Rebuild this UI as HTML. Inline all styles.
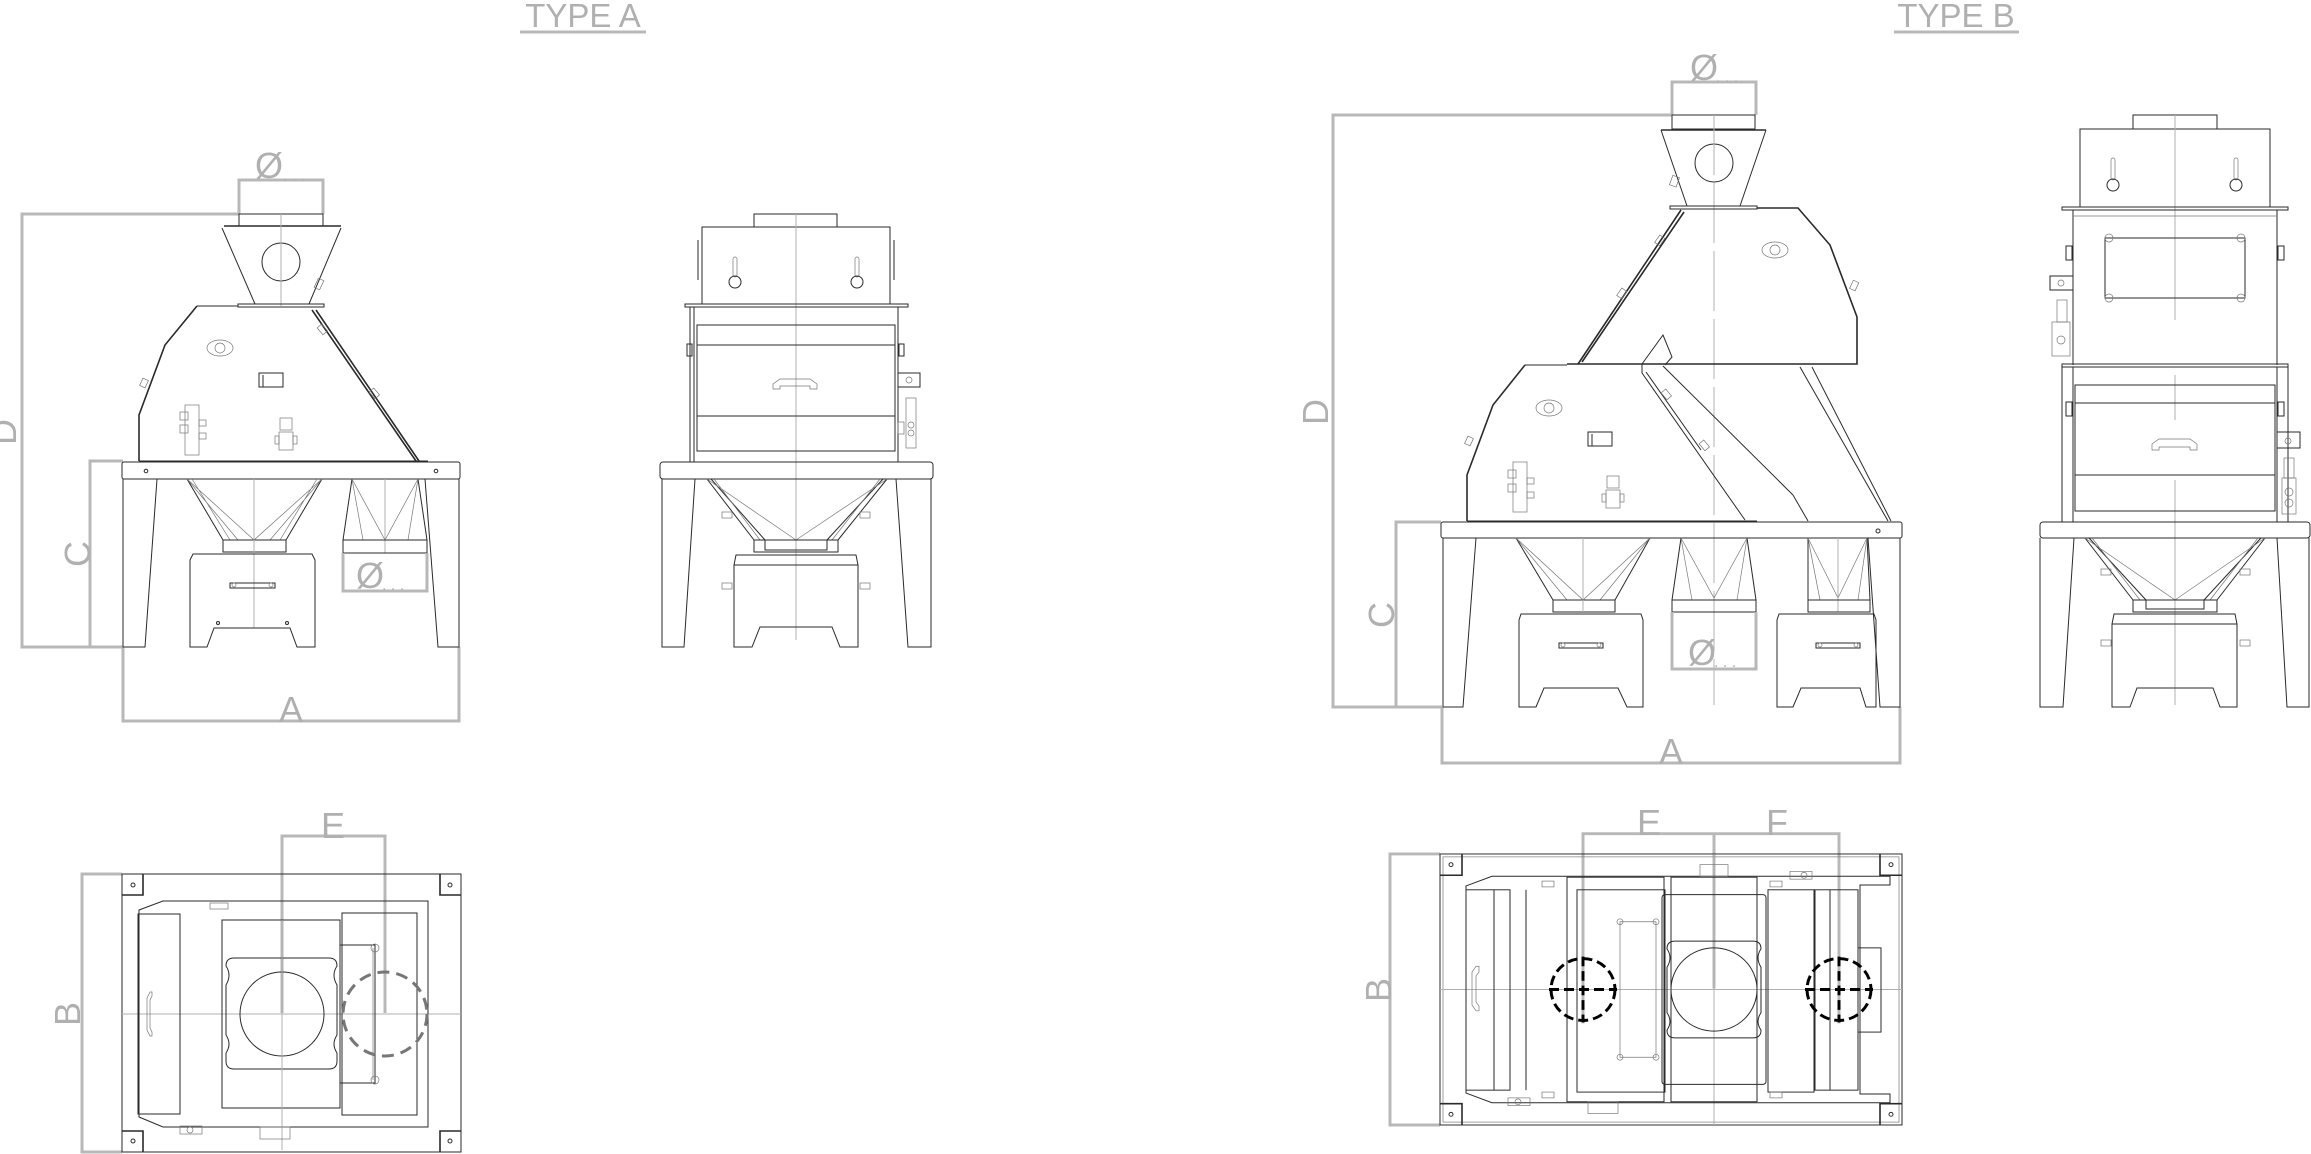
<!DOCTYPE html>
<html><head><meta charset="utf-8"><style>
html,body{margin:0;padding:0;background:#fff;}
svg{display:block;}
.g{stroke:#b8b8b8;stroke-width:3;fill:none;}
.m{stroke:#2a2a2a;stroke-width:1;fill:none;}
.mb{stroke:#2a2a2a;stroke-width:1.6;fill:none;}
.t{stroke:#777;stroke-width:0.7;fill:none;}
.c{stroke:#b0b0b0;stroke-width:1;fill:none;}
.dg{stroke:#777;stroke-width:3;fill:none;stroke-dasharray:12 7;}
.dk{stroke:#000;stroke-width:3;fill:none;stroke-dasharray:10 5;}
.lbl{font-family:"Liberation Sans",sans-serif;fill:#b0b0b0;font-size:36px;}
.ttl{font-family:"Liberation Sans",sans-serif;fill:#b0b0b0;font-size:33px;}
</style></head><body>
<svg width="2311" height="1154" viewBox="0 0 2311 1154" xmlns="http://www.w3.org/2000/svg">
<!-- Titles -->
<text class="ttl" x="583" y="27" text-anchor="middle">TYPE A</text>
<line class="g" x1="520" y1="32" x2="646" y2="32"/>
<text class="ttl" x="1956" y="27" text-anchor="middle">TYPE B</text>
<line class="g" x1="1894" y1="32" x2="2019" y2="32"/>

<!-- ================= TYPE A FRONT ================= -->
<path class="g" d="M239,214 V180 H323 V214"/>
<text class="lbl" x="255" y="178">Ø</text>
<text class="lbl" x="283" y="181" style="font-size:16px">. . .</text>
<path class="g" d="M239,214 H22 V647 H123"/>
<text class="lbl" transform="translate(16,432) rotate(-90)" text-anchor="middle">D</text>
<path class="g" d="M123,461 H90 V647"/>
<text class="lbl" transform="translate(90,554) rotate(-90)" text-anchor="middle">C</text>
<path class="g" d="M123,647 V721 H459 V647"/>
<text class="lbl" x="291" y="722" text-anchor="middle">A</text>
<rect class="m" x="239" y="214" width="84" height="12"/>
<line class="mb" x1="224" y1="226" x2="341" y2="226"/>
<path class="m" d="M222,228 L255,304 M341,228 L309,304"/>
<circle class="m" cx="281" cy="262" r="19"/>
<line class="c" x1="281" y1="214" x2="281" y2="306"/>
<rect class="m" x="238" y="304" width="86" height="3"/>
<path class="mb" d="M197,306 L165,345 L139,415 L139,461"/>
<path class="m" d="M197,306 H238"/>
<path class="mb" d="M312,310 L416,461 M316,310 L419,461"/>
<ellipse class="t" cx="220" cy="348" rx="13" ry="8"/><circle class="t" cx="220" cy="348" r="5"/>
<rect class="m" x="259" y="373" width="24" height="14"/><line class="m" x1="263" y1="375" x2="263" y2="387"/>
<rect class="t" x="185" y="405" width="14" height="50"/><rect class="t" x="180" y="412" width="8" height="8"/><rect class="t" x="180" y="425" width="8" height="8"/><rect class="t" x="199" y="420" width="7" height="6"/><rect class="t" x="199" y="433" width="7" height="6"/>
<rect class="t" x="280" y="418" width="12" height="12"/><rect class="t" x="279" y="432" width="14" height="18"/><rect class="t" x="275" y="436" width="4" height="8"/><rect class="t" x="293" y="436" width="4" height="8"/>
<rect class="t" x="140" y="380" width="8" height="6" transform="rotate(-65 144 383)"/>
<rect class="t" x="318" y="326" width="9" height="6" transform="rotate(50 322 329)"/>
<rect class="t" x="370" y="390" width="9" height="6" transform="rotate(50 374 393)"/>
<rect class="t" x="314" y="281" width="10" height="6" transform="rotate(-65 319 284)"/>
<line class="m" x1="139" y1="461" x2="428" y2="461"/>
<rect class="m" x="122" y="462" width="338" height="17" rx="2"/>
<circle class="m" cx="146" cy="471" r="1.8"/><circle class="m" cx="436" cy="471" r="1.8"/>
<path class="m" d="M123,479 V647 H145 L157,479"/>
<path class="m" d="M459,479 V647 H438 L425,479"/>
<path class="m" d="M187,479 L223,540 M322,479 L286,540"/>
<path class="t" d="M187,479 L254,540 L322,479 M187,479 L238,540 M322,479 L270,540 M192,479 L230,540 M317,479 L280,540"/>
<rect class="m" x="223" y="540" width="63" height="12"/>
<line class="c" x1="254" y1="479" x2="254" y2="628"/>
<path class="m" d="M193,554 H312 L315,560 V647 H297 L290,628 H214 L207,647 H190 V560 Z"/>
<rect class="m" x="230" y="583" width="45" height="5"/><circle class="t" cx="234" cy="585" r="2"/><circle class="t" cx="271" cy="585" r="2"/>
<circle class="m" cx="218" cy="623" r="1.5"/><circle class="m" cx="287" cy="623" r="1.5"/>
<path class="m" d="M352,479 L343,540 M418,479 L427,540"/>
<path class="t" d="M352,479 L385,540 L418,479 M352,479 L363,540 M418,479 L408,540"/>
<line class="c" x1="385" y1="479" x2="385" y2="553"/>
<rect class="m" x="343" y="540" width="84" height="13"/>
<path class="g" d="M343,553 V591 H427 V553"/>
<text class="lbl" x="356" y="588">Ø</text>
<text class="lbl" x="382" y="590" style="font-size:16px">. . .</text>

<!-- ================= TYPE A SIDE ================= -->
<rect class="m" x="754" y="214" width="83" height="13"/>
<rect class="m" x="702" y="227" width="188" height="77"/>
<line class="m" x1="698" y1="240" x2="698" y2="280"/><line class="m" x1="894" y1="240" x2="894" y2="280"/>
<line class="c" x1="796" y1="214" x2="796" y2="640"/>
<rect class="t" x="733" y="257" width="4" height="20" rx="2"/><circle class="m" cx="735" cy="282" r="6"/>
<rect class="t" x="855" y="257" width="4" height="20" rx="2"/><circle class="m" cx="857" cy="282" r="6"/>
<rect class="m" x="685" y="304" width="223" height="3"/>
<path class="m" d="M690,307 V462 M694,307 V462 M898,307 V462"/>
<rect class="m" x="697" y="325" width="198" height="126"/>
<line class="m" x1="697" y1="345" x2="895" y2="345"/><line class="m" x1="697" y1="416" x2="895" y2="416"/>
<path class="t" d="M773,384 L780,379 H810 L817,384 V389 H810 V386 H780 V389 H773 Z"/>
<rect class="m" x="687" y="344" width="5" height="12"/><rect class="m" x="899" y="344" width="5" height="12"/>
<rect class="m" x="898" y="373" width="22" height="14"/><circle class="t" cx="909" cy="380" r="3"/>
<rect class="t" x="906" y="398" width="10" height="50"/><circle class="t" cx="911" cy="425" r="3"/><circle class="t" cx="911" cy="433" r="3"/><rect class="t" x="898" y="422" width="6" height="12"/>
<rect class="m" x="660" y="462" width="273" height="17" rx="3"/>
<path class="m" d="M662,479 V647 H684 L695,479"/>
<path class="m" d="M931,479 V647 H908 L896,479"/>
<path class="m" d="M707,479 L754,540 M887,479 L838,540 M711,479 L765,540 M883,479 L827,540"/>
<path class="t" d="M707,479 L796,540 L887,479 M714,479 L760,540 M880,479 L832,540"/>
<rect class="m" x="754" y="540" width="84" height="12"/><rect class="m" x="765" y="540" width="62" height="10"/>
<path class="m" d="M736,555 H856 L858,565 V647 H840 L832,627 H760 L752,647 H734 V565 Z"/>
<line class="m" x1="734" y1="565" x2="858" y2="565"/>
<rect class="t" x="722" y="512" width="10" height="6"/><rect class="t" x="860" y="512" width="10" height="6"/>
<rect class="t" x="722" y="583" width="10" height="6"/><rect class="t" x="860" y="583" width="10" height="6"/>

<!-- ================= TYPE A BOTTOM ================= -->
<path class="g" d="M282,1013 V836 H385 V1013"/>
<text class="lbl" x="333" y="838" text-anchor="middle">E</text>
<path class="g" d="M122,874 H82 V1152 H122"/>
<text class="lbl" transform="translate(80,1014) rotate(-90)" text-anchor="middle">B</text>
<rect class="m" x="122" y="874" width="339" height="278"/>
<path class="mb" d="M122,895 H143 V874 M461,895 H440 V874 M122,1131 H143 V1152 M461,1131 H440 V1152"/>
<circle class="m" cx="133" cy="885" r="2"/><circle class="m" cx="450" cy="885" r="2"/><circle class="m" cx="133" cy="1141" r="2"/><circle class="m" cx="450" cy="1141" r="2"/>
<line class="c" x1="122" y1="1014" x2="461" y2="1014"/>
<path class="m" d="M139,910 L163,901 H428 V1127 H163 L139,1117 Z"/>
<rect class="m" x="138" y="914" width="42" height="200"/>
<path class="t" d="M150,992 L147,998 V1030 L150,1036 H152 V1032 L150,1028 V1000 L152,996 V992 Z"/>
<rect class="m" x="222" y="920" width="118" height="188"/>
<path class="m" d="M234,958 H329 Q337,958 337,966 Q331,975 337,985 V1035 Q331,1044 337,1053 V1061 Q337,1069 329,1069 H234 Q226,1069 226,1061 V1053 Q232,1044 226,1035 V985 Q232,975 226,966 Q226,958 234,958 Z"/>
<circle class="m" cx="282" cy="1014" r="42"/>
<line class="c" x1="282" y1="920" x2="282" y2="1150"/>
<rect class="m" x="342" y="913" width="75" height="202"/>
<rect class="m" x="340" y="945" width="35" height="138"/>
<line class="t" x1="373" y1="948" x2="373" y2="1080"/><circle class="t" cx="375" cy="948" r="4"/><circle class="t" cx="375" cy="1080" r="4"/>
<circle class="dg" cx="385" cy="1014" r="42"/>
<rect class="t" x="180" y="1126" width="22" height="8"/><circle class="t" cx="190" cy="1130" r="3"/>
<rect class="t" x="260" y="1127" width="30" height="12"/>
<rect class="t" x="210" y="903" width="18" height="6"/>

<!-- ================= TYPE B FRONT ================= -->
<path class="g" d="M1672,115 V82 H1756 V115"/>
<text class="lbl" x="1690" y="80">Ø</text>
<text class="lbl" x="1716" y="82" style="font-size:16px">. . .</text>
<path class="g" d="M1672,115 H1333 V707 H1442"/>
<text class="lbl" transform="translate(1328,412) rotate(-90)" text-anchor="middle">D</text>
<path class="g" d="M1441,522 H1396 V707"/>
<text class="lbl" transform="translate(1394,615) rotate(-90)" text-anchor="middle">C</text>
<path class="g" d="M1442,707 V763 H1900 V707"/>
<text class="lbl" x="1671" y="764" text-anchor="middle">A</text>
<rect class="m" x="1672" y="115" width="83" height="14"/>
<line class="mb" x1="1661" y1="130" x2="1766" y2="130"/>
<path class="m" d="M1661,130 L1687,206 M1766,130 L1740,206"/>
<circle class="m" cx="1714" cy="163" r="19"/>
<line class="c" x1="1714" y1="115" x2="1714" y2="705" stroke-dasharray="60 8"/>
<rect class="m" x="1670" y="206" width="87" height="3"/>
<rect class="t" x="1669" y="178" width="10" height="7" transform="rotate(-70 1674 181)"/>
<path class="mb" d="M1757,208 H1798 L1830,245 L1857,317 V364 H1567"/>
<path class="mb" d="M1681,210 L1578,364 M1684,212 L1582,362"/>
<ellipse class="t" cx="1775" cy="250" rx="13" ry="8"/><circle class="t" cx="1775" cy="250" r="5"/>
<rect class="t" x="1655" y="237" width="9" height="6" transform="rotate(-55 1660 240)"/>
<rect class="t" x="1617" y="290" width="9" height="6" transform="rotate(-55 1622 293)"/>
<rect class="t" x="1850" y="283" width="9" height="6" transform="rotate(-65 1854 286)"/>
<path class="mb" d="M1525,365 L1509,385 L1493,405 L1467,475 V521"/>
<line class="m" x1="1525" y1="365" x2="1567" y2="365"/>
<path class="m" d="M1642,364 L1663,335 L1672,357 L1665,365"/>
<path class="m" d="M1642,364 V373 L1745,520 M1646,372 L1701,450"/>
<path class="m" d="M1663,366 L1793,495 L1808,521"/>
<path class="m" d="M1800,367 L1888,521 M1812,367 L1891,521"/>
<ellipse class="t" cx="1549" cy="408" rx="13" ry="8"/><circle class="t" cx="1549" cy="408" r="5"/>
<rect class="m" x="1588" y="432" width="24" height="14"/><line class="m" x1="1592" y1="434" x2="1592" y2="446"/>
<rect class="t" x="1513" y="462" width="14" height="50"/><rect class="t" x="1508" y="470" width="8" height="8"/><rect class="t" x="1508" y="484" width="8" height="8"/><rect class="t" x="1527" y="478" width="7" height="6"/><rect class="t" x="1527" y="492" width="7" height="6"/>
<rect class="t" x="1607" y="476" width="12" height="12"/><rect class="t" x="1606" y="490" width="14" height="18"/><rect class="t" x="1602" y="494" width="4" height="8"/><rect class="t" x="1620" y="494" width="4" height="8"/>
<rect class="t" x="1465" y="438" width="8" height="6" transform="rotate(-65 1469 441)"/>
<rect class="t" x="1662" y="391" width="9" height="6" transform="rotate(50 1666 394)"/>
<rect class="t" x="1700" y="442" width="9" height="6" transform="rotate(50 1704 445)"/>
<line class="m" x1="1467" y1="521" x2="1757" y2="521"/>
<rect class="m" x="1441" y="522" width="461" height="16" rx="2"/>
<circle class="m" cx="1878" cy="531" r="2"/>
<path class="m" d="M1443,538 V707 H1463 L1476,538"/>
<path class="m" d="M1900,538 V707 H1880 L1868,538"/>
<path class="m" d="M1516,538 L1553,600 M1650,538 L1615,600"/>
<path class="t" d="M1516,538 L1583,600 L1650,538 M1516,538 L1567,600 M1650,538 L1600,600"/>
<rect class="m" x="1553" y="600" width="62" height="12"/>
<line class="c" x1="1583" y1="538" x2="1583" y2="612"/>
<path class="m" d="M1521,614 H1641 L1643,620 V707 H1627 L1618,688 H1544 L1536,707 H1519 V620 Z"/>
<rect class="m" x="1559" y="643" width="44" height="5"/><circle class="t" cx="1563" cy="645" r="2"/><circle class="t" cx="1599" cy="645" r="2"/>
<path class="m" d="M1681,538 L1672,600 M1747,538 L1756,600"/>
<path class="t" d="M1681,538 L1714,598 L1747,538 M1681,538 L1692,600 M1747,538 L1737,600"/>
<rect class="m" x="1672" y="600" width="84" height="12"/>
<path class="g" d="M1672,612 V669 H1756 V612"/>
<text class="lbl" x="1688" y="665">Ø</text>
<text class="lbl" x="1714" y="667" style="font-size:16px">. . .</text>
<path class="m" d="M1808,538 V600 M1867,538 L1870,600"/>
<path class="t" d="M1808,538 L1838,598 L1867,538 M1808,538 L1820,600 M1867,538 L1858,600"/>
<line class="c" x1="1838" y1="538" x2="1838" y2="612"/>
<rect class="m" x="1808" y="600" width="62" height="12"/>
<path class="m" d="M1779,614 H1874 L1876,620 V707 H1866 L1860,688 H1801 L1793,707 H1777 V620 Z"/>
<rect class="m" x="1816" y="643" width="44" height="5"/><circle class="t" cx="1820" cy="645" r="2"/><circle class="t" cx="1856" cy="645" r="2"/>

<!-- ================= TYPE B SIDE ================= -->
<rect class="m" x="2133" y="115" width="84" height="14"/>
<rect class="m" x="2080" y="129" width="190" height="78"/>
<line class="c" x1="2175" y1="115" x2="2175" y2="320"/>
<line class="c" x1="2175" y1="375" x2="2175" y2="420"/>
<line class="c" x1="2175" y1="480" x2="2175" y2="705"/>
<rect class="t" x="2111" y="158" width="4" height="22" rx="2"/><circle class="m" cx="2113" cy="185" r="6"/>
<rect class="t" x="2234" y="158" width="4" height="22" rx="2"/><circle class="m" cx="2236" cy="185" r="6"/>
<rect class="m" x="2062" y="207" width="226" height="3"/>
<path class="m" d="M2073,210 V365 M2277,210 V365"/>
<line class="t" x1="2073" y1="216" x2="2277" y2="216"/>
<rect class="m" x="2105" y="238" width="140" height="60"/>
<circle class="t" cx="2109" cy="238" r="4"/><circle class="t" cx="2241" cy="238" r="4"/><circle class="t" cx="2109" cy="298" r="4"/><circle class="t" cx="2241" cy="298" r="4"/>
<rect class="m" x="2066" y="246" width="6" height="14"/><rect class="m" x="2278" y="246" width="6" height="14"/>
<rect class="m" x="2050" y="276" width="23" height="14"/><circle class="t" cx="2061" cy="283" r="3"/>
<rect class="t" x="2057" y="300" width="10" height="22"/><rect class="t" x="2052" y="322" width="18" height="34"/><circle class="t" cx="2061" cy="340" r="4"/>
<rect class="m" x="2062" y="364" width="226" height="3"/>
<path class="m" d="M2062,367 V522 M2073,367 V522 M2277,367 V522 M2288,367 V522"/>
<rect class="m" x="2075" y="385" width="200" height="126"/>
<line class="m" x1="2075" y1="403" x2="2275" y2="403"/><line class="m" x1="2075" y1="475" x2="2275" y2="475"/>
<path class="t" d="M2152,444 L2159,439 H2190 L2197,444 V450 H2190 V447 H2159 V450 H2152 Z"/>
<rect class="m" x="2066" y="402" width="6" height="14"/><rect class="m" x="2278" y="402" width="6" height="14"/>
<rect class="m" x="2277" y="432" width="23" height="16"/><circle class="t" cx="2288" cy="441" r="3"/>
<rect class="t" x="2284" y="458" width="10" height="20"/><rect class="t" x="2282" y="478" width="14" height="36"/><circle class="t" cx="2289" cy="492" r="4"/><circle class="t" cx="2289" cy="503" r="4"/>
<rect class="m" x="2040" y="522" width="270" height="16" rx="3"/>
<path class="m" d="M2040,538 V707 H2063 L2074,538"/>
<path class="m" d="M2309,538 V707 H2287 L2277,538"/>
<path class="m" d="M2085,538 L2133,600 M2265,538 L2217,600 M2089,538 L2146,600 M2261,538 L2204,600"/>
<path class="t" d="M2085,538 L2175,600 L2265,538 M2092,538 L2140,600 M2258,538 L2210,600"/>
<rect class="m" x="2133" y="600" width="84" height="12"/><rect class="m" x="2146" y="600" width="58" height="9"/>
<path class="m" d="M2114,614 H2235 L2237,624 V707 H2220 L2213,688 H2137 L2130,707 H2112 V624 Z"/>
<line class="m" x1="2112" y1="624" x2="2237" y2="624"/>
<rect class="t" x="2101" y="569" width="10" height="6"/><rect class="t" x="2240" y="569" width="10" height="6"/>
<rect class="t" x="2101" y="640" width="10" height="6"/><rect class="t" x="2240" y="640" width="10" height="6"/>

<!-- ================= TYPE B BOTTOM ================= -->
<g transform="matrix(1 0 0 0.9679 0 25.46)">
<path class="g" d="M1583,1031 V835 H1839 V1031"/>
<line class="g" x1="1714" y1="835" x2="1714" y2="995"/>
<path class="g" d="M1440,856 H1390 V1136 H1440"/>
<rect class="m" x="1440" y="856" width="462" height="280"/>
<rect class="t" x="1443" y="859" width="456" height="274"/>
<path class="mb" d="M1440,878 H1462 V856 M1902,878 H1880 V856 M1440,1114 H1462 V1136 M1902,1114 H1880 V1136"/>
<circle class="m" cx="1451" cy="867" r="2"/><circle class="m" cx="1891" cy="867" r="2"/><circle class="m" cx="1451" cy="1125" r="2"/><circle class="m" cx="1891" cy="1125" r="2"/>
<line class="c" x1="1440" y1="996" x2="1902" y2="996"/>
<line class="c" x1="1714" y1="856" x2="1714" y2="1136"/>
<path class="m" d="M1466,889 L1492,879 H1890 V888 H1860 V1104 H1890 V1113 H1492 L1466,1103 Z"/>
<rect class="m" x="1466" y="893" width="44" height="207"/>
<line class="m" x1="1494" y1="893" x2="1494" y2="1100"/>
<line class="m" x1="1526" y1="893" x2="1526" y2="1100"/>
<path class="t" d="M1476,972 L1472,978 V1012 L1476,1018 H1479 V1013 L1476,1009 V982 L1479,978 V972 Z"/>
<rect class="m" x="1567" y="880" width="97" height="232"/>
<rect class="m" x="1577" y="893" width="88" height="209"/>
<path class="t" d="M1620,926 H1656 V1066 H1620 Z"/>
<circle class="t" cx="1620" cy="926" r="3"/><circle class="t" cx="1656" cy="926" r="3"/><circle class="t" cx="1620" cy="1066" r="3"/><circle class="t" cx="1656" cy="1066" r="3"/>
<rect class="m" x="1671" y="880" width="86" height="232"/>
<rect class="m" x="1662" y="898" width="104" height="196" rx="3"/>
<path class="m" d="M1675,946 H1753 Q1761,946 1761,954 Q1755,963 1761,973 V1020 Q1755,1029 1761,1038 V1038 Q1761,1046 1753,1046 H1675 Q1667,1046 1667,1038 Q1673,1029 1667,1020 V973 Q1673,963 1667,954 Q1667,946 1675,946 Z"/>
<circle class="m" cx="1714" cy="996" r="43"/>
<rect class="m" x="1768" y="893" width="46" height="209"/>
<rect class="m" x="1815" y="893" width="43" height="207"/>
<line class="m" x1="1830" y1="893" x2="1830" y2="1100"/>
<rect class="m" x="1858" y="953" width="23" height="87"/>
<rect class="t" x="1542" y="884" width="12" height="6"/><rect class="t" x="1542" y="1102" width="12" height="6"/>
<rect class="t" x="1770" y="884" width="12" height="6"/><rect class="t" x="1770" y="1102" width="12" height="6"/>
<rect class="t" x="1790" y="874" width="22" height="8"/><circle class="t" cx="1804" cy="878" r="3"/>
<rect class="t" x="1508" y="1108" width="22" height="8"/><circle class="t" cx="1518" cy="1112" r="3"/>
<rect class="t" x="1700" y="867" width="28" height="12"/>
<rect class="t" x="1588" y="1112" width="30" height="12"/>
<circle class="dk" cx="1583" cy="996" r="32"/>
<path class="dk" d="M1549,996 H1617 M1583,962 V1030" stroke-dasharray="14 3 3 3"/>
<circle class="dk" cx="1839" cy="996" r="32"/>
<path class="dk" d="M1805,996 H1873 M1839,962 V1030" stroke-dasharray="14 3 3 3"/>
</g>
<text class="lbl" x="1649" y="835" text-anchor="middle">E</text>
<text class="lbl" x="1777" y="835" text-anchor="middle">F</text>
<text class="lbl" transform="translate(1391,990) rotate(-90)" text-anchor="middle">B</text>
</svg>
</body></html>
